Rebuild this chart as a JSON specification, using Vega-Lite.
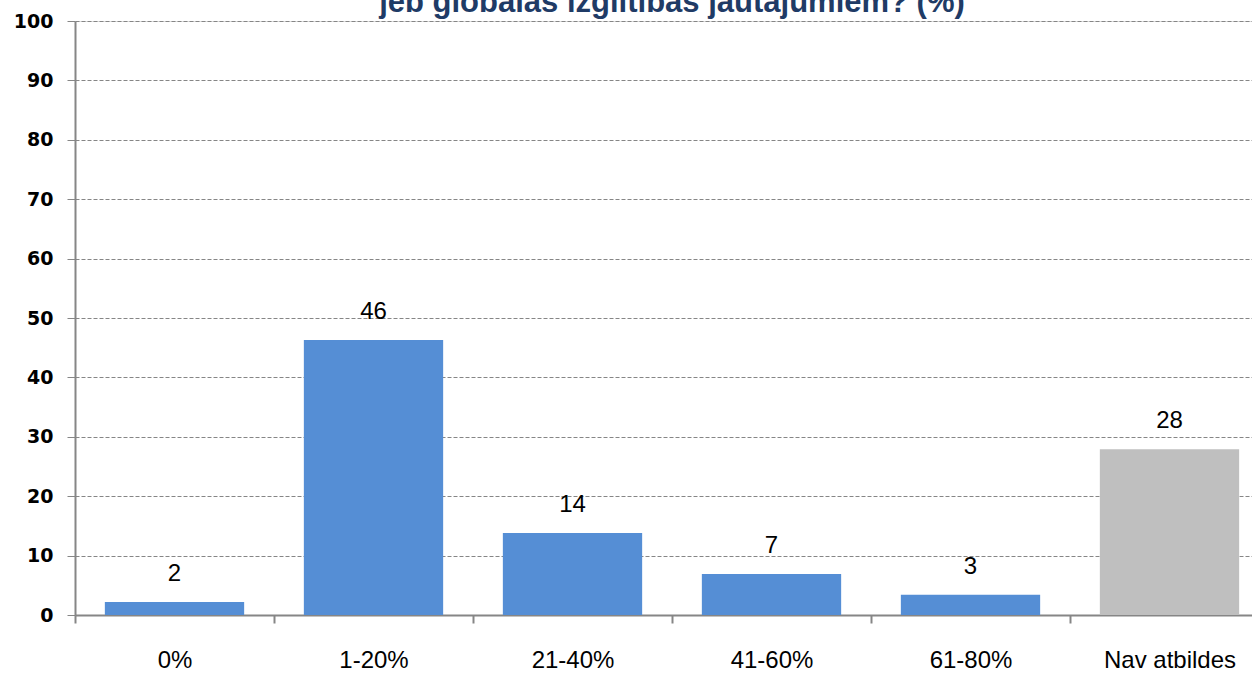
{
  "$schema": "https://vega.github.io/schema/vega-lite/v6.json",
  "autosize": {"type": "none"},
  "width": 1194,
  "height": 594,
  "padding": {"left": 75, "top": 21, "right": 0, "bottom": 58},
  "background": "white",
  "title": {
    "text": "jeb globālās izglītības jautājumiem? (%)",
    "anchor": "middle",
    "frame": "group",
    "baseline": "alphabetic",
    "offset": 5,
    "dy": 36,
    "font": "Liberation Sans",
    "fontSize": 31,
    "fontWeight": "bold",
    "color": "#1F3B66"
  },
  "data": {
    "values": [
      {"category": "0%", "value": 2.2, "label": "2", "group": "a"},
      {"category": "1-20%", "value": 46.3, "label": "46", "group": "a"},
      {"category": "21-40%", "value": 13.8, "label": "14", "group": "a"},
      {"category": "41-60%", "value": 6.9, "label": "7", "group": "a"},
      {"category": "61-80%", "value": 3.4, "label": "3", "group": "a"},
      {"category": "Nav atbildes", "value": 27.9, "label": "28", "group": "b"}
    ]
  },
  "encoding": {
    "x": {
      "field": "category",
      "type": "nominal",
      "sort": null,
      "scale": {"paddingInner": 0, "paddingOuter": 0},
      "axis": {
        "title": null,
        "labelAngle": 0,
        "labelFont": "Liberation Sans",
        "labelFontSize": 24,
        "labelColor": "#000000",
        "labelPadding": 25,
        "tickBand": "extent",
        "tickSize": 8,
        "tickWidth": 2,
        "tickColor": "#868686",
        "domainColor": "#868686",
        "domainWidth": 2,
        "grid": false
      }
    },
    "y": {
      "field": "value",
      "type": "quantitative",
      "scale": {"domain": [0, 100], "nice": false},
      "axis": {
        "title": null,
        "values": [0, 10, 20, 30, 40, 50, 60, 70, 80, 90, 100],
        "labelFont": "DejaVu Sans",
        "labelFontWeight": "bold",
        "labelFontSize": 19,
        "labelColor": "#000000",
        "labelPadding": 14,
        "tickSize": 8,
        "tickWidth": 1,
        "tickColor": "#868686",
        "domainColor": "#868686",
        "domainWidth": 2,
        "grid": true,
        "gridColor": "#868686",
        "gridDash": [4, 2],
        "gridWidth": 1
      }
    }
  },
  "layer": [
    {
      "mark": {"type": "bar", "width": {"band": 0.7}},
      "encoding": {
        "color": {
          "field": "group",
          "type": "nominal",
          "scale": {"domain": ["a", "b"], "range": ["#558ED5", "#BFBFBF"]},
          "legend": null
        }
      }
    },
    {
      "mark": {
        "type": "text",
        "baseline": "middle",
        "dy": -28,
        "font": "Liberation Sans",
        "fontSize": 24,
        "color": "#000000"
      },
      "encoding": {"text": {"field": "label"}}
    }
  ]
}
